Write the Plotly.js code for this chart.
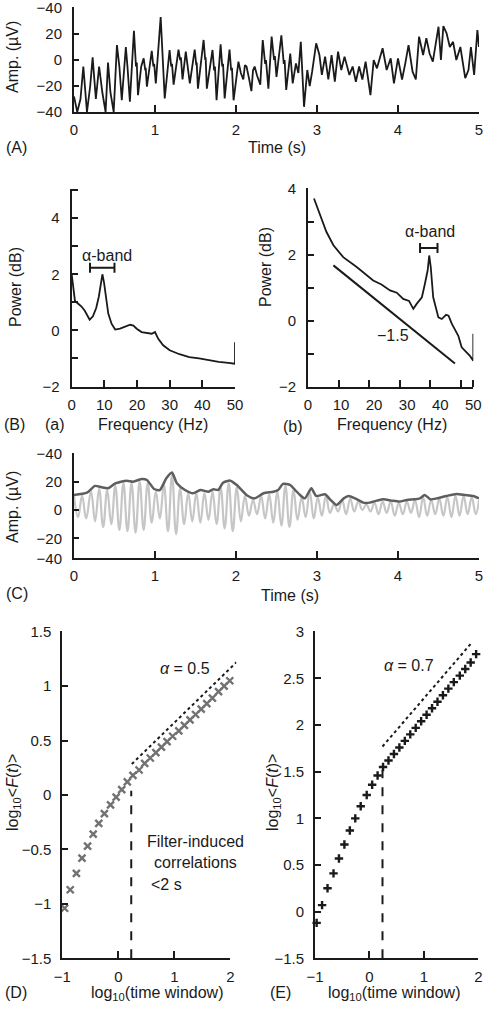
<!DOCTYPE html>
<html><head><meta charset="utf-8">
<script src="https://cdn.plot.ly/plotly-3.0.1.min.js"></script>
<style>html,body{margin:0;padding:0;background:#fff}#chart{width:485px;height:1010px}</style>
</head><body><div id="chart"></div>
<script>
// ---------- Panel A: raw EEG ----------
const eegT = [0.00,0.04,0.08,0.115,0.16,0.20,0.23,0.27,0.31,0.35,
  0.39,0.42,0.45,0.49,0.53,0.56,0.59,0.62,0.64,0.66,
  0.69,0.74,0.765,0.775,0.79,0.83,0.86,0.88,0.885,0.90,
  0.96,0.98,0.99,1.01,1.07,1.12,1.18,1.20,1.21,1.23,
  1.29,1.31,1.32,1.34,1.38,1.43,1.49,1.51,1.515,1.53,
  1.60,1.62,1.625,1.64,1.71,1.73,1.74,1.76,1.81,1.83,
  1.84,1.86,1.92,1.94,1.95,1.97,2.03,2.06,2.09,2.11,
  2.13,2.16,2.19,2.21,2.23,2.26,2.30,2.33,2.36,2.37,
  2.40,2.44,2.47,2.48,2.50,2.56,2.59,2.60,2.62,2.67,
  2.70,2.74,2.77,2.80,2.84,2.88,2.91,2.94,2.99,3.03,
  3.06,3.10,3.14,3.18,3.22,3.26,3.30,3.34,3.40,3.44,
  3.48,3.52,3.56,3.60,3.66,3.70,3.74,3.81,3.86,3.91,
  3.95,4.00,4.05,4.09,4.13,4.18,4.22,4.26,4.31,4.35,
  4.39,4.43,4.47,4.50,4.53,4.56,4.60,4.64,4.68,4.72,
  4.77,4.83,4.87,4.90,4.94,4.98,5.00];
const eegV = [-28,-40,-30,-5,-40,-20,2,-30,-5,-25,
  -40,-2,-25,-40,11.5,-5,-31,-10,10,-5,
  -32,22.5,-5,-2,-27,-5,1.3,-8,-6,-20.5,
  7,-5,-3,-18,33,-29.5,7.7,-5,-3,-19,
  8,0,2,-15,6.4,-18,8,-4,-2,-22,
  15.4,0,2,-22,7.7,-8,-5,-31,12,-5,
  -3,-29.5,8,-8,-6,-31,-1.3,-10,-15,-4,
  -5,-14,-24,-8,-5,-12,-19,15.4,-3,0,
  -22,18,0,3,-13,19,-3,0,-23,5,
  -18,-2.6,-10,14,-36,-7.7,-20,-9,12.8,3.8,
  -11.5,2.6,-15,3.8,-16.7,6.4,-7.7,2.6,-11.5,-5,
  -16.7,-5,-15,-1.3,-27,0,-6.4,9,-7.7,1.3,
  -18,1.3,-15,-2.6,11.5,-9,-15,18,3.8,16.7,
  5,-1.3,12.8,25.6,0,26,20.5,10,14,0,
  10,-14,-7.7,10,-11.5,23,10];
const ampTickVals = [-40,-20,0,20,40];
const ampTickText = ['\u221240','\u221220','0','20','\u221240'];
const timeTicks = [0,1,2,3,4,5];

// ---------- Panel B(a): power spectrum ----------
const specAF = [0,0.5,1,2,3,4,5,5.5,6.5,7.5,8.3,8.8,9.4,9.9,10.5,11.2,12.2,13.3,14.8,16.3,17.9,18.9,19.9,21.4,23,24.5,25.5,26.5,28,30,33,36,39,42,45,48,50,50];
const specAP = [2.0,1.4,1.05,0.95,0.85,0.7,0.5,0.38,0.5,0.8,1.2,1.55,2.0,1.7,1.15,0.6,0.24,0.03,0.06,0.12,0.2,0.17,0.06,-0.06,-0.1,-0.12,-0.06,-0.3,-0.53,-0.71,-0.85,-0.95,-1.0,-1.07,-1.12,-1.16,-1.19,-0.42];
const bandA = {lo:5.6, hi:13.1, y:2.23};
const freqTicksA = [0,10,20,30,40,50];

// ---------- Panel B(b): log-log spectrum ----------
const specBF = [1.96,4,6,8.3,11.5,15.9,21.3,24,26.8,29,31.1,33,34.4,35.5,37.2,38.2,39.1,39.6,40.1,40.9,42.6,43.7,45.1,45.9,47,49.1,50.2,52.9,54,54];
const specBP = [3.71,3.2,2.7,2.29,1.93,1.63,1.22,1.1,0.92,0.85,0.66,0.6,0.36,0.51,0.71,1.12,1.53,1.98,1.63,0.71,0.10,0.05,0.18,0.15,-0.1,-0.46,-0.81,-1.07,-1.22,-0.4];
const bandB = {lo:36.6, hi:42.3, y:2.21};
const slopeX = [8.3,48];
const slopeY = [1.68,-1.3];
const freqTickPosB = [0,10.8,21.6,32.4,43.2,54];
const freqTickMarkB = [10,20,30,40,50,54];
const freqTickText = ['0','10','20','30','40','50'];

// ---------- Panel C: alpha filtered signal + envelope ----------
const lightT = [0.00,0.05,0.10,0.15,0.21,0.26,0.31,0.36,0.41,0.46,
  0.51,0.56,0.61,0.66,0.71,0.76,0.81,0.86,0.91,0.96,
  1.01,1.06,1.11,1.16,1.21,1.26,1.31,1.36,1.41,1.46,
  1.51,1.56,1.61,1.66,1.71,1.76,1.81,1.86,1.91,1.96,
  2.01,2.06,2.11,2.16,2.21,2.26,2.31,2.36,2.41,2.46,
  2.51,2.56,2.61,2.66,2.71,2.76,2.81,2.86,2.91,2.96,
  3.01,3.06,3.11,3.16,3.21,3.26,3.31,3.36,3.41,3.46,
  3.51,3.56,3.61,3.66,3.71,3.76,3.81,3.86,3.91,3.96,
  4.01,4.06,4.11,4.16,4.21,4.26,4.31,4.36,4.41,4.46,
  4.51,4.56,4.61,4.66,4.71,4.76,4.81,4.86,4.91,4.96,5.00];
const lightV = [10,-5,10,-6,13,-8,15,-12,14,-10,
  17,-14,19,-15,19,-16,20,-14,19,-9,
  13,-6,18,-15,25,-17,15,-10,12,-8,
  12,-9,12,-7,13,-10,16,-13,19,-15,
  16,-8,10,-4,7,-3,10,-6,11,-9,
  13,-11,17,-12,14,-7,9,-5,13,-6,
  9,-4,10,-2,4,-1,7,-3,8,-1,
  6,0,4,-1,5,-3,6,-2,6,-4,
  5,-3,6,-2,7,-5,9,-4,7,-3,
  8,-4,9,-5,10,-4,10,-3,9,-3,7];
const envT = [0,0.16,0.26,0.34,0.42,0.51,0.65,0.73,0.84,0.90,0.99,1.06,1.14,1.21,1.27,1.37,1.47,1.56,1.66,1.72,
  1.78,1.84,1.93,2.01,2.13,2.23,2.34,2.46,2.52,2.58,2.67,2.73,2.79,2.85,2.93,2.99,3.10,3.16,3.24,3.33,
  3.39,3.47,3.57,3.65,3.74,3.82,3.92,4.02,4.11,4.21,4.27,4.33,4.40,4.48,4.60,4.72,4.83,4.93,5.00];
const envV = [10.6,12.2,17,16,15.3,18.8,20.7,20,21.9,21.2,14.8,14.1,22.4,26.4,18.8,14.1,11.8,14.1,12.9,14.6,
  14.1,19.3,20.7,17.6,10.6,8.2,11.8,12.9,14.1,18.4,17.6,14.1,10.6,8.2,15.3,9.9,11.1,7.5,3.5,8.2,
  9.9,8.2,5.2,5.2,6.6,7.5,6.6,5.9,7.1,7.5,8.2,10.6,7.5,8.2,9.9,11.3,10.6,9.9,8.2];
const ampCTickVals = [-34.1,-20,0,20,40];

// ---------- Panel D: DFA of filtered signal ----------
const dfaDx = [-0.96,-0.86,-0.75,-0.65,-0.55,-0.45,-0.35,-0.25,-0.14,-0.04,0.06,0.16,0.26,0.37,0.47,0.57,0.67,0.77,0.87,0.97,1.08,1.18,1.28,1.38,1.48,1.58,1.68,1.79,1.89,1.99];
const dfaDy = [-1.04,-0.87,-0.72,-0.58,-0.47,-0.36,-0.26,-0.17,-0.09,-0.02,0.05,0.12,0.18,0.23,0.29,0.34,0.39,0.44,0.49,0.54,0.59,0.64,0.69,0.74,0.79,0.84,0.89,0.95,1.00,1.05];
const fitDx = [0.24,2.11];
const fitDy = [0.285,1.22];
const cutD = {x:0.23, top:0.04};
const dTickVals = [-1.5,-1,-0.5,0,0.5,1,1.5];
const dTickText = ['\u22121.5','\u22121','\u22120.5','0','0.5','1','1.5'];

// ---------- Panel E: DFA of amplitude envelope ----------
const dfaEx = [-0.97,-0.87,-0.77,-0.66,-0.56,-0.46,-0.36,-0.26,-0.16,-0.05,0.05,0.15,0.25,0.35,0.45,0.55,0.65,0.75,0.85,0.95,1.05,1.15,1.25,1.35,1.45,1.55,1.66,1.76,1.86,1.96];
const dfaEy = [-0.12,0.07,0.25,0.41,0.57,0.72,0.87,1.0,1.13,1.25,1.36,1.46,1.55,1.62,1.69,1.76,1.83,1.90,1.97,2.04,2.11,2.18,2.25,2.32,2.39,2.46,2.53,2.60,2.67,2.76];
const fitEx = [0.24,1.89];
const fitEy = [1.77,2.89];
const cutE = {x:0.24, top:1.52};
const eTickVals = [-0.5,0,0.5,1,1.5,2,2.5,3];
const eTickText = ['\u22121.5','0','0.5','1','1.5','2','2.5','3'];
const logTickVals = [-1,0,1,2];
const logTickText = ['\u22121','0','1','2'];

// ---------- styling ----------
const INK = '#1a1a1a';
const FONT = 'Liberation Sans, Arial, sans-serif';
function axis(domain, range, anchor, extra) {
  return Object.assign({
    domain: domain, range: range, anchor: anchor,
    showline: true, linecolor: INK, linewidth: 2,
    ticks: 'inside', ticklen: 7, tickwidth: 2, tickcolor: INK,
    showgrid: false, zeroline: false, fixedrange: true,
    ticklabeloverflow: 'allow',
    tickfont: {family: FONT, size: 15, color: INK}
  }, extra || {});
}
const W = 485, H = 1010;
const px = v => v / W;
const py = v => 1 - v / H;

const traces = [
  {x: eegT, y: eegV, xaxis: 'x', yaxis: 'y', mode: 'lines', line: {color: INK, width: 1.8}},
  {x: specAF, y: specAP, xaxis: 'x2', yaxis: 'y2', mode: 'lines', line: {color: INK, width: 1.8}},
  {x: [(bandA.lo + bandA.hi) / 2], y: [bandA.y], xaxis: 'x2', yaxis: 'y2', mode: 'markers', marker: {size: 1, color: INK},
   error_x: {type: 'data', array: [(bandA.hi - bandA.lo) / 2], color: INK, thickness: 2, width: 5}},
  {x: specBF, y: specBP, xaxis: 'x3', yaxis: 'y3', mode: 'lines', line: {color: INK, width: 1.8}},
  {x: [(bandB.lo + bandB.hi) / 2], y: [bandB.y], xaxis: 'x3', yaxis: 'y3', mode: 'markers', marker: {size: 1, color: INK},
   error_x: {type: 'data', array: [(bandB.hi - bandB.lo) / 2], color: INK, thickness: 2, width: 5}},
  {x: slopeX, y: slopeY, xaxis: 'x3', yaxis: 'y3', mode: 'lines', line: {color: INK, width: 2}},
  {x: lightT, y: lightV, xaxis: 'x4', yaxis: 'y4', mode: 'lines', line: {color: '#c6c6c6', width: 2.2, shape: 'spline', smoothing: 1.2}},
  {x: envT, y: envV, xaxis: 'x4', yaxis: 'y4', mode: 'lines', line: {color: '#5e5e5e', width: 2.5, shape: 'spline', smoothing: 0.6}},
  {x: [cutD.x, cutD.x], y: [-1.5, cutD.top], xaxis: 'x5', yaxis: 'y5', mode: 'lines', line: {color: INK, width: 2, dash: 'dash'}},
  {x: dfaDx, y: dfaDy, xaxis: 'x5', yaxis: 'y5', mode: 'markers', cliponaxis: false,
   marker: {symbol: 'x-thin', size: 7, color: '#727272', line: {width: 2.4, color: '#727272'}}},
  {x: fitDx, y: fitDy, xaxis: 'x7', yaxis: 'y5', mode: 'lines', line: {color: INK, width: 2, dash: 'dot'}},
  {x: [cutE.x, cutE.x], y: [-0.5, cutE.top], xaxis: 'x6', yaxis: 'y6', mode: 'lines', line: {color: INK, width: 2, dash: 'dash'}},
  {x: fitEx, y: fitEy, xaxis: 'x6', yaxis: 'y6', mode: 'lines', line: {color: INK, width: 2, dash: 'dot'}},
  {x: dfaEx, y: dfaEy, xaxis: 'x6', yaxis: 'y6', mode: 'markers', cliponaxis: false,
   marker: {symbol: 'cross-thin', size: 6, color: INK, line: {width: 2.4, color: INK}}}
];

function note(text, x, y, opts) {
  return Object.assign({text: text, x: x, y: y, xref: 'paper', yref: 'paper', showarrow: false,
    xanchor: 'center', yanchor: 'middle', font: {family: FONT, size: 16, color: INK}}, opts || {});
}

const annotations = [
  note('Amp. (\u00b5V)', px(12), py(57), {textangle: -90}),
  note('Time (s)', px(277), py(147)),
  note('(A)', px(4), py(147), {xanchor: 'left'}),
  note('Power (dB)', px(15), py(287), {textangle: -90}),
  note('Power (dB)', px(265), py(267), {textangle: -90}),
  note('Frequency (Hz)', px(153), py(425)),
  note('Frequency (Hz)', px(392), py(425)),
  note('(B)', px(2), py(425), {xanchor: 'left'}),
  note('(a)', px(55), py(425)),
  note('(b)', px(293), py(427)),
  note('Amp. (\u00b5V)', px(12), py(507), {textangle: -90}),
  note('Time (s)', px(290), py(595)),
  note('(C)', px(4), py(593), {xanchor: 'left'}),
  note('log<sub>10</sub>&lt;<i>F</i>(<i>t</i>)&gt;', px(13), py(793), {textangle: -90}),
  note('log<sub>10</sub>&lt;<i>F</i>(<i>t</i>)&gt;', px(273), py(793), {textangle: -90}),
  note('log<sub>10</sub>(time window)', px(157), py(993)),
  note('log<sub>10</sub>(time window)', px(394), py(993)),
  note('(D)', px(3), py(992), {xanchor: 'left'}),
  note('(E)', px(268), py(992), {xanchor: 'left'}),
  note('\u03b1-band', 10.9, 2.67, {xref: 'x2', yref: 'y2'}),
  note('\u03b1-band', 39.9, 2.7, {xref: 'x3', yref: 'y3'}),
  note('\u22121.5', 27.9, -0.46, {xref: 'x3', yref: 'y3'}),
  note('<i>\u03b1</i> = 0.5', 1.19, 1.16, {xref: 'x5', yref: 'y5'}),
  note('<i>\u03b1</i> = 0.7', 0.73, 2.64, {xref: 'x6', yref: 'y6'}),
  note('Filter-induced<br>correlations', 1.38, -0.52, {xref: 'x5', yref: 'y5'}),
  note('&lt;2 s', 0.54, -0.82, {xref: 'x5', yref: 'y5', xanchor: 'left'})
];

const layout = {
  width: W, height: H, margin: {l: 0, r: 0, t: 0, b: 0},
  paper_bgcolor: '#fff', plot_bgcolor: 'rgba(0,0,0,0)', showlegend: false,
  font: {family: FONT, size: 15, color: INK},
  xaxis: axis([px(74), px(479)], [0, 5], 'y', {tickvals: timeTicks, ticklabelstandoff: 3}),
  yaxis: axis([py(112), py(7.2)], [-40, 40.6], 'x', {tickvals: ampTickVals, ticktext: ampTickText, ticklen: 5, ticklabelstandoff: 7}),
  xaxis2: axis([px(71.7), px(235)], [0, 50], 'y2', {tickvals: freqTicksA, ticklabelstandoff: 3}),
  yaxis2: axis([py(386.5), py(189)], [-2, 5.04], 'x2', {tickvals: [-2, 0, 2, 4], ticklen: 6, ticklabelstandoff: 7,
    minor: {dtick: 1, tick0: 0, ticks: 'inside', ticklen: 6, tickwidth: 2, tickcolor: INK}}),
  xaxis3: axis([px(308), px(473.3)], [0, 54], 'y3', {tickvals: freqTickPosB, ticktext: freqTickText, ticks: '', ticklabelstandoff: 3,
    minor: {tickmode: 'array', tickvals: freqTickMarkB, ticks: 'inside', ticklen: 7, tickwidth: 2, tickcolor: INK}}),
  yaxis3: axis([py(386.5), py(188)], [-2, 4.03], 'x3', {tickvals: [-2, 0, 2, 4], ticklen: 6, ticklabelstandoff: 7,
    minor: {dtick: 1, tick0: 0, ticks: 'inside', ticklen: 6, tickwidth: 2, tickcolor: INK}}),
  xaxis4: axis([px(74), px(479)], [0, 5], 'y4', {tickvals: timeTicks, ticklabelstandoff: 3}),
  yaxis4: axis([py(558.3), py(452.6)], [-34.1, 40.5], 'x4', {tickvals: ampCTickVals, ticktext: ampTickText, ticklen: 5, ticklabelstandoff: 7}),
  xaxis5: axis([px(62.4), px(230.3)], [-1, 2], 'y5', {tickvals: logTickVals, ticktext: logTickText, ticklabelstandoff: 4}),
  yaxis5: axis([py(958.3), py(631)], [-1.5, 1.507], 'x5', {tickvals: dTickVals, ticktext: dTickText, ticklen: 6, ticklabelstandoff: 6}),
  xaxis6: axis([px(315), px(478.3)], [-1, 2], 'y6', {tickvals: [-1, 0, 1, 2], ticktext: logTickText, ticklabelstandoff: 4}),
  yaxis6: axis([py(958.3), py(631)], [-0.5, 3.008], 'x6', {tickvals: eTickVals, ticktext: eTickText, ticklen: 6, ticklabelstandoff: 6}),
  xaxis7: {domain: [px(62.4), px(236.3)], range: [-1, 2.107], anchor: 'y5', visible: false, fixedrange: true},
  annotations: annotations
};

Plotly.newPlot('chart', traces, layout, {staticPlot: true, displayModeBar: false});
</script></body></html>
